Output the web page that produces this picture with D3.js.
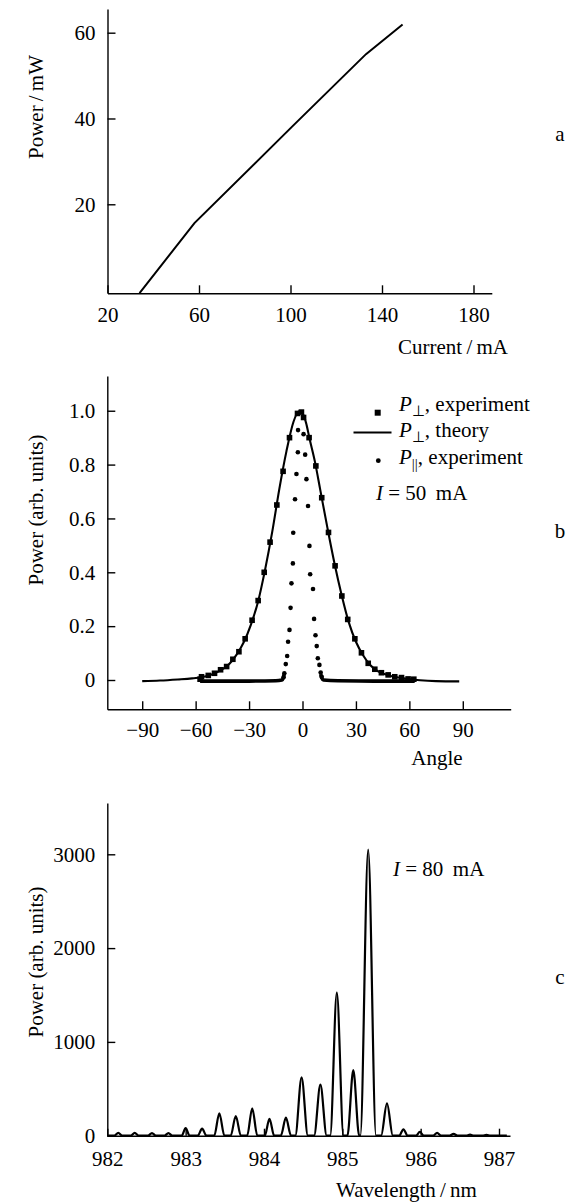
<!DOCTYPE html>
<html><head><meta charset="utf-8">
<script src="https://cdn.jsdelivr.net/npm/d3@7"></script>
<style>
html,body{margin:0;padding:0;background:#fff;}
text{font-family:"Liberation Serif","Times New Roman",serif;fill:#000;}
</style>
</head><body>
<script>
// ---------- Panel a data ----------
const currentA = [34, 58, 100.7, 133, 149];
const powerA   = [-0.7, 15.6, 38.1, 55, 61.9];
const xTicksA = [20, 60, 100, 140, 180];
const yTicksA = [20, 40, 60];

// ---------- Panel b data ----------
const theoryAngles = [-90,-80,-70,-62,-57,-53,-49,-45,-41,-37,-33,-29,-25,-21,-17,-13,-9,-5,-2,0,2,4,7,10,14,18,22,26,30,34,38,42,46,50,55,60,66,75,88];
const theoryValues = [-0.004,-0.002,0.002,0.006,0.01,0.016,0.026,0.04,0.06,0.094,0.14,0.205,0.29,0.41,0.55,0.71,0.85,0.96,0.998,0.99,0.955,0.895,0.81,0.705,0.565,0.432,0.315,0.214,0.142,0.092,0.056,0.034,0.022,0.014,0.008,0.003,-0.001,-0.004,-0.005];
const perpAngles = [-57.5,-56.7,-52.9,-49.4,-46.0,-42.6,-39.1,-35.7,-32.2,-28.3,-24.9,-21.5,-18.2,-14.4,-10.9,-7.3,-2.8,-0.6,0.6,3.7,7.5,10.8,14.6,18.3,22.1,25.4,29.4,33.1,36.9,40.6,44.3,48.1,51.8,55.6,59.3,62.5];
const perpValues = [0.003,0.012,0.017,0.025,0.038,0.05,0.077,0.105,0.153,0.222,0.295,0.40,0.512,0.65,0.775,0.90,0.99,0.995,0.975,0.90,0.795,0.677,0.548,0.424,0.312,0.225,0.153,0.101,0.062,0.04,0.027,0.019,0.012,0.009,0.004,0.003];
const parAngles = [-10.6,-10.2,-9.4,-8.6,-8.1,-7.3,-6.7,-6.2,-5.4,-5.2,-4.2,-3.4,-2.6,-2.5,0.6,1.5,2.2,3.1,3.9,4.3,5.9,6.5,7.3,8.0,8.6,9.5,10.2,10.8];
const parValues = [0.01,0.025,0.059,0.089,0.142,0.186,0.268,0.359,0.433,0.547,0.671,0.765,0.846,0.928,0.913,0.837,0.746,0.646,0.498,0.393,0.338,0.227,0.166,0.126,0.081,0.056,0.028,0.012];
const parBaseLeftAngles = [-57.5,-45,-30,-15,-11.6,-10.8,-10.3];
const parBaseLeftValues = [-0.004,-0.004,-0.004,-0.003,0.0,0.008,0.022];
const parBaseRightAngles = [10.2,10.8,11.8,20,40,63];
const parBaseRightValues = [0.022,0.008,0.0,-0.003,-0.004,-0.004];
const xTicksB = [-90,-60,-30,0,30,60,90];
const yTicksB = [0,0.2,0.4,0.6,0.8,1.0];

// ---------- Panel c data ----------
const peakWavelengths = [982.14,982.35,982.57,982.78,983.00,983.21,983.43,983.64,983.85,984.07,984.28,984.48,984.72,984.93,985.14,985.33,985.57,985.78,985.99,986.21,986.42,986.63,986.84];
const peakHeights     = [30,30,28,28,80,75,238,210,292,180,192,622,545,1525,700,3050,345,68,40,30,20,12,8];
const peakHalfWidths  = [0.05,0.05,0.05,0.05,0.05,0.055,0.065,0.065,0.065,0.06,0.065,0.08,0.08,0.085,0.075,0.1,0.075,0.055,0.05,0.05,0.05,0.05,0.05];
const specStart = 982.0, specEnd = 987.1;
const xTicksC = [982,983,984,985,986,987];
const yTicksC = [0,1000,2000,3000];

const W = 578, H = 1204;
const FS = 21;
const svg = d3.select("body").append("svg").attr("width", W).attr("height", H);

function styleAxis(g){
  g.attr("font-family", null).attr("font-size", null);
  g.selectAll("text").style("font-size", FS + "px").style("font-family", '"Liberation Serif","Times New Roman",serif');
  g.selectAll("line").attr("stroke", "#000").attr("stroke-width", 1.4);
  g.select(".domain").attr("stroke", "#000").attr("stroke-width", 1.4);
}
const fmtMinus = d => (d < 0 ? "\u2212" + Math.abs(d) : String(d));

// ================= Panel a =================
const xA = d3.scaleLinear().domain([20, 188]).range([107.5, 491.8]);
const yA = d3.scaleLinear().domain([-0.75, 65.5]).range([293.3, 9.1]);
svg.append("g").attr("transform", `translate(0,${yA(-0.75)})`)
  .call(d3.axisBottom(xA).tickValues(xTicksA).tickFormat(d3.format("d")).tickSize(-8).tickSizeOuter(0).tickPadding(14))
  .call(styleAxis);
svg.append("g").attr("transform", `translate(${xA(20)},0)`)
  .call(d3.axisLeft(yA).tickValues(yTicksA).tickFormat(d3.format("d")).tickSize(-8).tickSizeOuter(0).tickPadding(12))
  .call(styleAxis);
svg.append("path").datum(currentA.map((c,i)=>[c, powerA[i]]))
  .attr("fill","none").attr("stroke","#000").attr("stroke-width",2)
  .attr("d", d3.line().x(d=>xA(d[0])).y(d=>yA(d[1])));
svg.append("text").attr("x", 453).attr("y", 354).attr("text-anchor","middle").style("font-size", FS+"px").text("Current\u2009/\u2009mA");
svg.append("text").attr("transform","translate(43,107) rotate(-90)").attr("text-anchor","middle").style("font-size", FS+"px").text("Power\u2009/\u2009mW");
svg.append("text").attr("x", 560).attr("y", 141).attr("text-anchor","middle").style("font-size", FS+"px").text("a");

// ================= Panel b =================
const xB = d3.scaleLinear().domain([-109.6, 116.9]).range([107.3, 510.7]);
const yB = d3.scaleLinear().domain([-0.1088, 1.129]).range([709.3, 376]);
svg.append("g").attr("transform", `translate(0,${yB(-0.1088)})`)
  .call(d3.axisBottom(xB).tickValues(xTicksB).tickFormat(fmtMinus).tickSize(-8).tickSizeOuter(0).tickPadding(13))
  .call(styleAxis);
svg.append("g").attr("transform", `translate(${xB(-109.6)},0)`)
  .call(d3.axisLeft(yB).tickValues(yTicksB).tickFormat(d => d === 0 ? "0" : d3.format(".1f")(d)).tickSize(-8).tickSizeOuter(0).tickPadding(12))
  .call(styleAxis);

const lineB = d3.line().x(d=>xB(d[0])).y(d=>yB(d[1])).curve(d3.curveMonotoneX);
svg.append("path").datum(parBaseLeftAngles.map((a,i)=>[a, parBaseLeftValues[i]]))
  .attr("fill","none").attr("stroke","#000").attr("stroke-width",3.6).attr("d", lineB);
svg.append("path").datum(parBaseRightAngles.map((a,i)=>[a, parBaseRightValues[i]]))
  .attr("fill","none").attr("stroke","#000").attr("stroke-width",3.6).attr("d", lineB);
svg.append("path").datum(theoryAngles.map((a,i)=>[a, theoryValues[i]]))
  .attr("fill","none").attr("stroke","#000").attr("stroke-width",2.1).attr("d", lineB);
const sq = 5.6;
svg.append("g").selectAll("rect").data(perpAngles.map((a,i)=>[a, perpValues[i]])).join("rect")
  .attr("x", d=>xB(d[0])-sq/2).attr("y", d=>yB(d[1])-sq/2).attr("width", sq).attr("height", sq).attr("fill","#000");
svg.append("g").selectAll("circle").data(parAngles.map((a,i)=>[a, parValues[i]])).join("circle")
  .attr("cx", d=>xB(d[0])).attr("cy", d=>yB(d[1])).attr("r", 2.3).attr("fill","#000");

// legend
svg.append("rect").attr("x", 377.7-3).attr("y", 412.7-3).attr("width", 6).attr("height", 6).attr("fill","#000");
svg.append("line").attr("x1", 353.5).attr("x2", 391.5).attr("y1", 432.5).attr("y2", 432.5).attr("stroke","#000").attr("stroke-width",2);
svg.append("circle").attr("cx", 378.3).attr("cy", 460.7).attr("r", 2.4).attr("fill","#000");
function legendText(y, sub, rest){
  const t = svg.append("text").attr("x", 399).attr("y", y).style("font-size", FS+"px");
  t.append("tspan").style("font-style","italic").text("P");
  t.append("tspan").attr("dy", 5).style("font-size","15px").text(sub);
  t.append("tspan").attr("dy", -5).text(rest);
}
legendText(410.7, "\u22A5", ", experiment");
legendText(437, "\u22A5", ", theory");
legendText(464, "||", ", experiment");
{
  const t = svg.append("text").attr("x", 376).attr("y", 500).style("font-size", FS+"px");
  t.append("tspan").style("font-style","italic").text("I");
  t.append("tspan").text(" = 50\u2009 mA");
}
svg.append("text").attr("x", 437).attr("y", 765).attr("text-anchor","middle").style("font-size", FS+"px").text("Angle");
svg.append("text").attr("transform","translate(43,510) rotate(-90)").attr("text-anchor","middle").style("font-size", FS+"px").text("Power (arb. units)");
svg.append("text").attr("x", 560).attr("y", 538).attr("text-anchor","middle").style("font-size", FS+"px").text("b");

// ================= Panel c =================
const xC = d3.scaleLinear().domain([982, 987]).range([107.3, 499]);
const yC = d3.scaleLinear().domain([0, 3000]).range([1135.7, 854.3]);
const yTopC = yC.invert(803);
svg.append("g").attr("transform", `translate(${xC(982)},0)`)
  .call(d3.axisLeft(d3.scaleLinear().domain([0, yTopC]).range([yC(0), yC(yTopC)])).tickValues(yTicksC).tickFormat(d3.format("d")).tickSize(-8).tickSizeOuter(0).tickPadding(12))
  .call(styleAxis);
svg.append("g").attr("transform", `translate(0,${yC(0)})`)
  .call(d3.axisBottom(d3.scaleLinear().domain([982, xC.invert(510)]).range([xC(982), 510])).tickValues(xTicksC).tickFormat(d3.format("d")).tickSize(-7).tickSizeOuter(0).tickPadding(15))
  .call(styleAxis);

const spec = [[specStart, 0]];
peakWavelengths.forEach((c,i)=>{
  spec.push([c - peakHalfWidths[i], 0], [c, peakHeights[i]], [c + peakHalfWidths[i], 0]);
});
spec.push([specEnd, 0]);
svg.append("path").datum(spec).attr("fill","none").attr("stroke","#000").attr("stroke-width",2.2).attr("stroke-linejoin","round")
  .attr("d", d3.line().x(d=>xC(d[0])).y(d=>yC(d[1])).curve(d3.curveMonotoneX));

{
  const t = svg.append("text").attr("x", 393).attr("y", 876).style("font-size", FS+"px");
  t.append("tspan").style("font-style","italic").text("I");
  t.append("tspan").text(" = 80\u2009 mA");
}
svg.append("text").attr("x", 406.5).attr("y", 1197).attr("text-anchor","middle").style("font-size", FS+"px").text("Wavelength\u2009/\u2009nm");
svg.append("text").attr("transform","translate(43,962) rotate(-90)").attr("text-anchor","middle").style("font-size", FS+"px").text("Power (arb. units)");
svg.append("text").attr("x", 560).attr("y", 984).attr("text-anchor","middle").style("font-size", FS+"px").text("c");
</script>
</body></html>
